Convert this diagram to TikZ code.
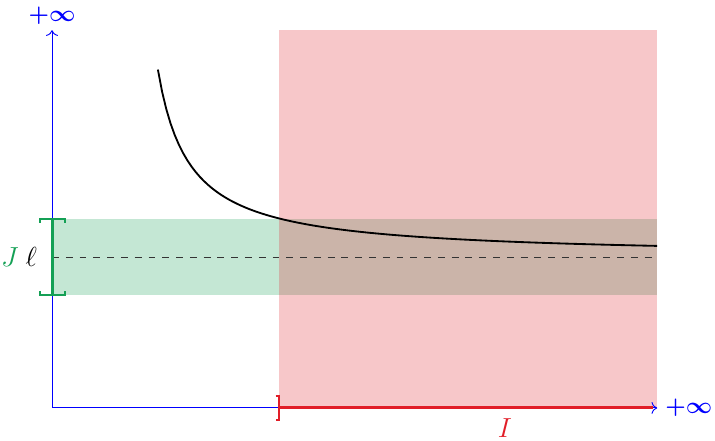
\documentclass[tikz,border=0pt]{standalone}
\usetikzlibrary{arrows.meta,positioning}
\definecolor{intred}{RGB}{225,30,40}
\definecolor{intgreen}{RGB}{20,160,85}

\begin{document}
\begin{tikzpicture}[>=To,
 axis/.style={blue,->},
 inflabel/.style={blue,font=\boldmath},
 band/.style={fill opacity=0.25,draw=none},
 bracket/.style={line width=0.9pt}]
\useasboundingbox (-0.796,-0.505) rectangle (10.144,6.242);
\coordinate (O) at (0,0);
\coordinate (xend) at (9.26,0);
\coordinate (ytop) at (0,5.78);
% regions
\fill[band,intgreen] (0,1.73) rectangle (9.26,2.89);
\fill[band,intred] (3.47,0) rectangle (9.26,5.78);
\draw[dashed,black!80] (0,2.31) -- (9.26,2.31);
% the function
\draw[thick,domain=1.62:9.26,samples=120] plot (\x,{2.31+1.376/(\x-1.14)});
% axes
\draw[axis] (O) -- (xend);
\draw[axis] (O) -- (ytop);
\node[inflabel,right=0pt of xend] (xinf) {$+\infty$};
\node[inflabel,above=-1pt of ytop] (yinf) {$+\infty$};
% interval I
\draw[intred,line width=1.3pt] (3.47,0) -- (9.2,0);
\draw[intred,bracket] (3.42,0.18) -- (3.47,0.18) -- (3.47,-0.18) -- (3.42,-0.18);
\node[intred,font=\large,below=1pt] (I) at (6.93,0) {$I$};
% interval J
\draw[intgreen,line width=1.3pt] (0,1.73) -- (0,2.89);
\draw[intgreen,bracket] (-0.18,2.83) -- (-0.18,2.89) -- (0.2,2.89) -- (0.2,2.83);
\draw[intgreen,bracket] (-0.18,1.79) -- (-0.18,1.73) -- (0.2,1.73) -- (0.2,1.79);
\node[font=\large,left=3pt] (ell) at (0,2.31) {$\ell$};
\node[intgreen,font=\large,left=-4pt of ell] (J) {$J$};
\end{tikzpicture}
\end{document}
